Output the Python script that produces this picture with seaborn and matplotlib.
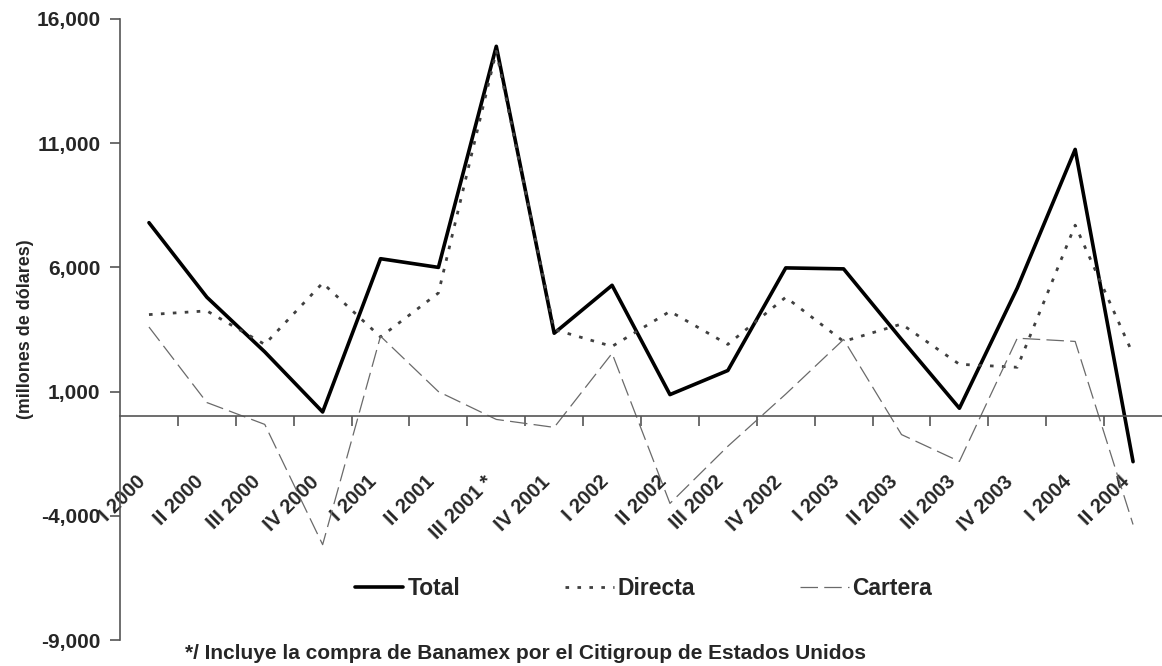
import numpy as np
import pandas as pd
import seaborn as sns
import matplotlib.pyplot as plt
from matplotlib.ticker import FuncFormatter, FixedLocator
from matplotlib.transforms import ScaledTranslation

quarters = ['I 2000', 'II 2000', 'III 2000', 'IV 2000',
            'I 2001', 'II 2001', 'III 2001 *', 'IV 2001',
            'I 2002', 'II 2002', 'III 2002', 'IV 2002',
            'I 2003', 'II 2003', 'III 2003', 'IV 2003',
            'I 2004', 'II 2004']
total = [7800, 4800, 2600, 180, 6350, 6000, 14900, 3350, 5280, 880,
         1850, 5980, 5940, 3100, 330, 5170, 10750, -1820]
directa = [4100, 4250, 2900, 5370, 3200, 4970, 14700, 3500, 2820, 4230,
           2900, 4800, 3020, 3720, 2100, 1980, 7700, 2500]
cartera = [3600, 560, -320, -5160, 3230, 1000, -120, -440, 2540, -3500,
           -1200, 900, 3100, -730, -1810, 3150, 3020, -4350]

sns.set_style('white')
plt.rcParams['font.family'] = ['Liberation Sans', 'DejaVu Sans']
plt.rcParams['font.weight'] = 'bold'

fig = plt.figure(figsize=(11.62, 6.66), dpi=100)
ax = fig.add_axes([0.1033, 0.039, 0.8967, 0.9325])

x = np.arange(len(quarters))
sns.lineplot(x=x, y=total, ax=ax, color='black', linewidth=2.6, label='Total')
sns.lineplot(x=x, y=directa, ax=ax, color='#404040', linewidth=2.0,
             linestyle=(0, (1.3, 3.0)), label='Directa')
sns.lineplot(x=x, y=cartera, ax=ax, color='#6a6a6a', linewidth=0.9,
             linestyle=(0, (14, 5)), label='Cartera')

ax.set_xlim(-0.5, len(quarters) - 0.5)
ax.set_ylim(-9000, 16000)
ax.set_yticks(range(-9000, 16001, 5000))
ax.yaxis.set_major_formatter(FuncFormatter(lambda v, p: f'{int(v):,}'))

ax.spines['top'].set_visible(False)
ax.spines['right'].set_visible(False)
ax.spines['bottom'].set_position(('data', 0))
for s in ('left', 'bottom'):
    ax.spines[s].set_color('#555555')
    ax.spines[s].set_linewidth(1.2)

ax.set_xticks(x)
ax.set_xticklabels(quarters, rotation=45, ha='right', va='top',
                   fontsize=14.5, fontweight='bold')
shift = ScaledTranslation(-0.09, 0, fig.dpi_scale_trans)
for lab in ax.get_xticklabels():
    lab.set_transform(lab.get_transform() + shift)
ax.xaxis.set_minor_locator(FixedLocator(x[:-1] + 0.5))
ax.tick_params(axis='x', which='major', bottom=True, length=0, pad=40)
ax.tick_params(axis='x', which='minor', bottom=True, length=7, width=1.2,
               color='#555555', direction='out')
ax.tick_params(axis='y', left=True, length=7, width=1.2, color='#555555',
               direction='out', labelsize=15, pad=7)
for lab in ax.get_yticklabels():
    lab.set_fontweight('bold')

ax.set_xlabel('')
ax.set_ylabel('(millones de dólares)', fontsize=12.9, fontweight='bold')
ax.yaxis.set_label_coords(-0.083, 0.5)

ax.legend(loc='center', bbox_to_anchor=(0.554, 0.117), bbox_transform=fig.transFigure,
          ncol=3, frameon=False, handlelength=2.1, handletextpad=0.17,
          columnspacing=4.6, prop={'weight': 'bold', 'size': 16.5})

fig.text(0.159, 0.0105, '*/ Incluye la compra de Banamex por el Citigroup de Estados Unidos',
         fontsize=15, fontweight='bold', ha='left', va='baseline')

fig.savefig('out.png', dpi=100)
